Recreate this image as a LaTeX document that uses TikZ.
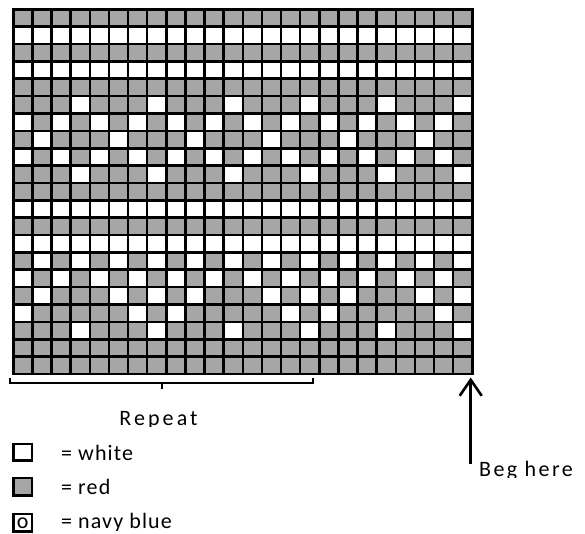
\documentclass[tikz,border=0pt]{standalone}
\usepackage{fontspec}
\setmainfont{Carlito}
\usetikzlibrary{arrows.meta}
\definecolor{cellgray}{RGB}{166,166,166}
\begin{document}
\begin{tikzpicture}[x=1pt,y=-1pt,
  gridline/.style={line width=2.6pt, black},
  legbox/.style={draw=black, line width=2.6pt},
  lbl/.style={inner sep=0pt, font=\fontsize{22}{26}\selectfont\addfontfeature{LetterSpace=5}},
  bracketline/.style={line width=1.8pt, black},
]
\useasboundingbox (0,0) rectangle (585,534);
\def\gx{13.3}\def\gy{9.3}\def\cw{19.125}\def\ch{17.366}
\fill[cellgray] (\gx,\gy) rectangle ({\gx+24*\cw},{\gy+21*\ch});
\foreach \r in {2,4,12,14}
  \fill[white] (\gx,{\gy+(\r-1)*\ch}) rectangle ({\gx+24*\cw},{\gy+\r*\ch});
\foreach \r/\cols in {6/{4,8,...,24},7/{1,3,...,23},8/{2,6,...,22},9/{1,3,...,23},10/{4,8,...,24},15/{2,4,...,24},16/{1,3,...,23},17/{2,6,8,10,14,16,18,22,24},18/{1,7,9,15,17,23},19/{4,8,...,24}}
  \foreach \c in \cols
    \fill[white] ({\gx+(\c-1)*\cw},{\gy+(\r-1)*\ch}) rectangle ({\gx+\c*\cw},{\gy+\r*\ch});
\foreach \c in {1,...,23}
  \draw[gridline] ({\gx+\c*\cw},\gy) -- ({\gx+\c*\cw},{\gy+21*\ch});
\foreach \r in {1,...,20}
  \draw[gridline] (\gx,{\gy+\r*\ch}) -- ({\gx+24*\cw},{\gy+\r*\ch});
\draw[gridline] (\gx,\gy) rectangle ({\gx+24*\cw},{\gy+21*\ch});
% repeat bracket
\coordinate (bl) at (10,378);
\coordinate (blc) at (10,383.3);
\coordinate (brc) at (313,383.3);
\coordinate (br) at (313,378);
\coordinate (bm) at (162,383.3);
\coordinate (bmt) at (162,388.5);
\draw[bracketline] (bl) -- (blc) -- (brc) -- (br);
\draw[line width=2.4pt] (bm) -- (bmt);
\begin{scope}
  \clip (90,400) rectangle (230,426.5);
  \node[lbl, anchor=base, font=\fontsize{22}{26}\selectfont\addfontfeature{LetterSpace=14}] (rep) at (158.5,425.5) {Repeat};
\end{scope}
% arrow
\coordinate (argtail) at (470.7,464);
\coordinate (argtip) at (470.7,377.5);
\draw[line width=2.6pt, -{Straight Barb[length=16pt,width=22pt]}] (argtail) -- (argtip);
\begin{scope}
  \clip (476,450) rectangle (585,477.5);
  \node[lbl, anchor=base west, font=\fontsize{22}{26}\selectfont\addfontfeature{LetterSpace=11}] (beg) at (479,476.7) {Beg here};
\end{scope}
% legend
\draw[legbox, fill=white] (13.7,444.1) rectangle (31.9,460.3);
\node[lbl, anchor=base west] (lw) at (61,460) {= white};
\draw[legbox, fill=cellgray] (13.7,478.1) rectangle (31.9,495.3);
\node[lbl, anchor=base west] (lr) at (61,494) {= red};
\draw[legbox, fill=white] (13.7,514.1) rectangle (31.9,531.5) node[midway, lbl, anchor=base, yshift=-6pt] (lo) {o};
\begin{scope}
  \clip (55,505) rectangle (200,530.5);
  \node[lbl, anchor=base west] (ln) at (61,528.5) {= navy blue};
\end{scope}
\end{tikzpicture}
\end{document}
